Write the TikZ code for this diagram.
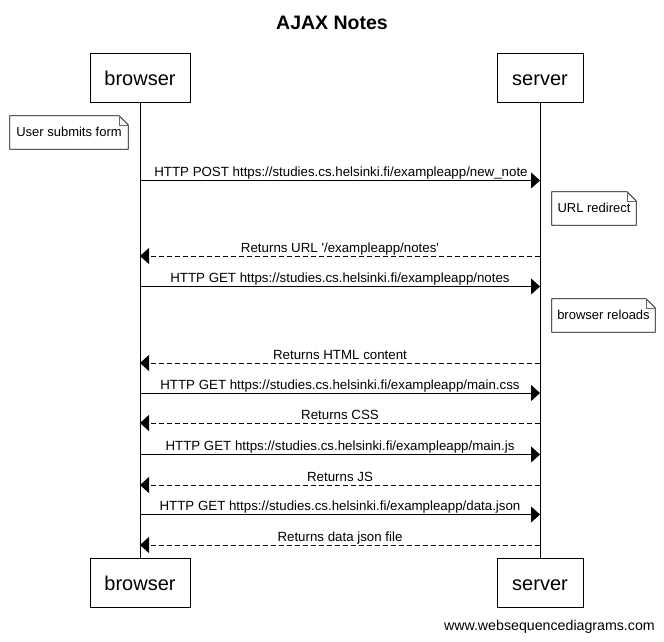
\documentclass[tikz,border=0pt]{standalone}
\usepackage{fontspec}
\setmainfont{Liberation Sans}
\usetikzlibrary{arrows.meta}
\begin{document}
\begin{tikzpicture}[x=1pt,y=-1pt,
  actor/.style={draw,line width=1pt,minimum height=49pt,inner sep=0pt,text height=19pt,text depth=4pt,font=\fontsize{20}{24}\selectfont},
  lifeline/.style={line width=1pt},
  msg/.style={line width=1pt,-{Triangle[length=9pt,width=16pt]}},
  reply/.style={msg,dash pattern=on 5pt off 3pt},
  msglabel/.style={anchor=base,inner sep=0pt,font=\fontsize{13.3}{16}\selectfont},
  notebox/.style={minimum height=33pt,inner sep=0pt,text height=11pt,text depth=3pt,font=\fontsize{13}{16}\selectfont},
  noteline/.style={line width=0.8pt},
  foldline/.style={line width=0.6pt,draw=black!60}
]
\useasboundingbox[fill=white] (0,0) rectangle (664,641);
% title
\node[font=\bfseries\fontsize{19.5}{23}\selectfont,anchor=base] (title) at (332,29.5) {AJAX Notes};
% participants
\node[actor,minimum width=100pt] (bt) at (140,77.5) {browser};
\node[actor,minimum width=86pt] (st) at (540,77.5) {server};
\node[actor,minimum width=100pt] (bb) at (140,582.5) {browser};
\node[actor,minimum width=86pt] (sb) at (540,582.5) {server};
\draw[lifeline] (bt.south) -- (bb.north);
\draw[lifeline] (st.south) -- (sb.north);
% notes
\newcommand{\notedraw}[1]{%
  \draw[noteline] (#1.north west) -- ([xshift=-9pt]#1.north east) -- ([yshift=-9pt]#1.north east) -- (#1.south east) -- (#1.south west) -- cycle;
  \draw[foldline] ([xshift=-9pt]#1.north east) |- ([yshift=-9pt]#1.north east);}
\node[notebox,minimum width=118pt] (n1) at (69,132.5) {User submits form};
\notedraw{n1}
\node[notebox,minimum width=84pt] (n2) at (594,208.5) {URL redirect};
\notedraw{n2}
\node[notebox,minimum width=103pt] (n3) at (603.5,315.5) {browser reloads};
\notedraw{n3}
% message coordinates
\foreach \i/\y in {1/180.5,2/256,3/286.5,4/363,5/393,6/423,7/454.5,8/485,9/514.5,10/545}{
  \coordinate (b\i) at (140,\y);
  \coordinate (s\i) at (540,\y);
}
\draw[msg] (b1) -- (s1);
\node[msglabel] (m1) at (341,176.5) {HTTP POST https://studies.cs.helsinki.fi/exampleapp/new\_note};
\draw[reply] (s2) -- (b2);
\node[msglabel] (m2) at (340,252) {Returns URL \textquotesingle/exampleapp/notes\textquotesingle};
\draw[msg] (b3) -- (s3);
\node[msglabel] (m3) at (340,282.5) {HTTP GET https://studies.cs.helsinki.fi/exampleapp/notes};
\draw[reply] (s4) -- (b4);
\node[msglabel] (m4) at (340,359) {Returns HTML content};
\draw[msg] (b5) -- (s5);
\node[msglabel] (m5) at (340,389) {HTTP GET https://studies.cs.helsinki.fi/exampleapp/main.css};
\draw[reply] (s6) -- (b6);
\node[msglabel] (m6) at (340,419) {Returns CSS};
\draw[msg] (b7) -- (s7);
\node[msglabel] (m7) at (340,450.5) {HTTP GET https://studies.cs.helsinki.fi/exampleapp/main.js};
\draw[reply] (s8) -- (b8);
\node[msglabel] (m8) at (340,481) {Returns JS};
\draw[msg] (b9) -- (s9);
\node[msglabel] (m9) at (340,510.5) {HTTP GET https://studies.cs.helsinki.fi/exampleapp/data.json};
\draw[reply] (s10) -- (b10);
\node[msglabel] (m10) at (340,541) {Returns data json file};
% footer
\node[anchor=base east,inner sep=0pt,font=\fontsize{14.2}{17}\selectfont] (footer) at (655,630) {www.websequencediagrams.com};
\end{tikzpicture}
\end{document}
